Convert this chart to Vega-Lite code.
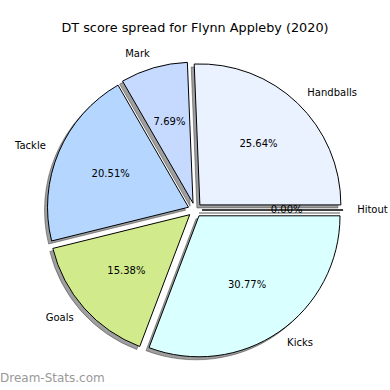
{
  "$schema": "https://vega.github.io/schema/vega-lite/v6.json",
  "width": 390,
  "height": 350,
  "autosize": {"type": "none"},
  "padding": {"top": 40, "left": 0, "right": 0, "bottom": 0},
  "background": "white",
  "title": {"text": "DT score spread for Flynn Appleby (2020)", "font": "DejaVu Sans", "fontSize": 12.8, "fontWeight": "normal", "color": "#000000", "offset": 5, "anchor": "middle"},
  "config": {"view": {"stroke": null}},
  "layer": [
    {
      "data": {"values": [
        {"stat": "Handballs", "value": 10},
        {"stat": "Mark", "value": 3},
        {"stat": "Tackle", "value": 8},
        {"stat": "Goals", "value": 6},
        {"stat": "Kicks", "value": 12},
        {"stat": "Hitout", "value": 0}
      ]},
      "transform": [
        {"window": [{"op": "sum", "field": "value", "as": "cum"}], "frame": [null, 0]},
        {"joinaggregate": [{"op": "sum", "field": "value", "as": "total"}]},
        {"calculate": "(datum.cum - datum.value) / datum.total", "as": "f0"},
        {"calculate": "datum.cum / datum.total", "as": "f1"},
        {"calculate": "PI * (datum.f0 + datum.f1)", "as": "a"},
        {"calculate": "0.05 * cos(datum.a)", "as": "cx"},
        {"calculate": "0.05 * sin(datum.a)", "as": "cy"},
        {"calculate": "datum.cx + 1.1 * cos(datum.a)", "as": "lx"},
        {"calculate": "datum.cy + 1.1 * sin(datum.a)", "as": "ly"},
        {"calculate": "datum.cx + 0.6 * cos(datum.a)", "as": "px"},
        {"calculate": "datum.cy + 0.6 * sin(datum.a)", "as": "py"},
        {"calculate": "format(datum.value / datum.total * 100, '.2f') + '%'", "as": "pct"}
      ],
      "layer": [
        {
          "mark": {"type": "arc", "radius": 141, "xOffset": -3, "yOffset": 3, "fill": "#404040", "fillOpacity": 0.5, "stroke": "#404040", "strokeOpacity": 0.5, "strokeWidth": 1},
          "encoding": {
            "theta": {"field": "f0", "type": "quantitative", "scale": {"domain": [0, 1], "range": [1.5707963, -4.712389]}},
            "theta2": {"field": "f1"},
            "x": {"field": "cx", "type": "quantitative", "axis": null, "scale": {"domain": [-1.383, 1.383], "nice": false, "zero": false}},
            "y": {"field": "cy", "type": "quantitative", "axis": null, "scale": {"domain": [-1.2766, 1.2057], "nice": false, "zero": false}}
          }
        },
        {
          "mark": {"type": "arc", "radius": 141, "stroke": "#000000", "strokeWidth": 1},
          "encoding": {
            "theta": {"field": "f0", "type": "quantitative", "scale": {"domain": [0, 1], "range": [1.5707963, -4.712389]}},
            "theta2": {"field": "f1"},
            "x": {"field": "cx", "type": "quantitative", "axis": null},
            "y": {"field": "cy", "type": "quantitative", "axis": null},
            "fill": {"field": "stat", "type": "nominal", "legend": null, "scale": {"domain": ["Handballs", "Mark", "Tackle", "Goals", "Kicks", "Hitout"], "range": ["#eaf1ff", "#c6d9ff", "#b4d6ff", "#d1eb8c", "#d9ffff", "#ffffff"]}}
          }
        },
        {
          "mark": {"type": "text", "font": "DejaVu Sans", "fontSize": 10, "color": "#000000", "align": "center", "baseline": "middle"},
          "encoding": {
            "x": {"field": "px", "type": "quantitative", "axis": null},
            "y": {"field": "py", "type": "quantitative", "axis": null},
            "text": {"field": "pct"}
          }
        },
        {
          "transform": [{"filter": "datum.lx > 0"}],
          "mark": {"type": "text", "font": "DejaVu Sans", "fontSize": 10, "color": "#000000", "align": "left", "baseline": "middle"},
          "encoding": {
            "x": {"field": "lx", "type": "quantitative", "axis": null},
            "y": {"field": "ly", "type": "quantitative", "axis": null},
            "text": {"field": "stat"}
          }
        },
        {
          "transform": [{"filter": "datum.lx <= 0"}],
          "mark": {"type": "text", "font": "DejaVu Sans", "fontSize": 10, "color": "#000000", "align": "right", "baseline": "middle"},
          "encoding": {
            "x": {"field": "lx", "type": "quantitative", "axis": null},
            "y": {"field": "ly", "type": "quantitative", "axis": null},
            "text": {"field": "stat"}
          }
        }
      ]
    },
    {
      "data": {"values": [{"site": "Dream-Stats.com"}]},
      "mark": {"type": "text", "font": "DejaVu Sans", "fontSize": 12, "fontWeight": "normal", "color": "#999999", "align": "left", "baseline": "alphabetic"},
      "encoding": {
        "x": {"datum": -1.383, "type": "quantitative", "axis": null},
        "y": {"datum": -1.22, "type": "quantitative", "axis": null},
        "text": {"field": "site"}
      }
    }
  ]
}
